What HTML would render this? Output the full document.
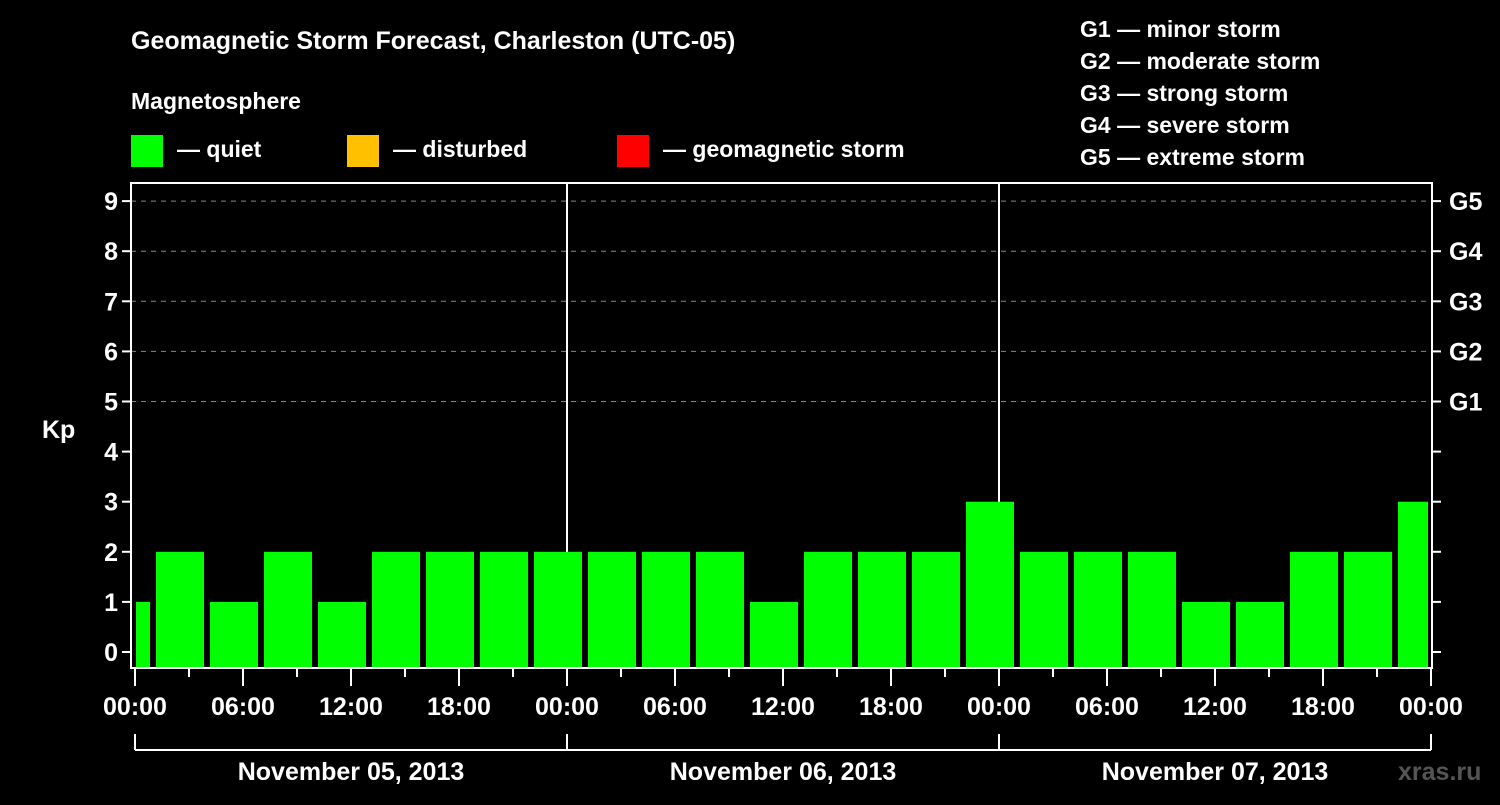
<!DOCTYPE html>
<html><head><meta charset="utf-8"><style>
body{margin:0;background:#000;width:1500px;height:800px;overflow:hidden}
svg text{font-family:"Liberation Sans",sans-serif;font-weight:bold;fill:#fff}
</style></head><body>
<svg id="c" width="1500" height="800">
<text x="131" y="49" font-size="25">Geomagnetic Storm Forecast, Charleston (UTC-05)</text>
<text x="131" y="109" font-size="23">Magnetosphere</text>
<rect x="131" y="135" width="32" height="32" fill="#00ff00"/>
<text x="177" y="157" font-size="23">— quiet</text>
<rect x="347" y="135" width="32" height="32" fill="#ffc000"/>
<text x="393" y="157" font-size="23">— disturbed</text>
<rect x="617" y="135" width="32" height="32" fill="#ff0000"/>
<text x="663" y="157" font-size="23">— geomagnetic storm</text>
<g font-size="23">
<text x="1080" y="37">G1 — minor storm</text>
<text x="1080" y="69">G2 — moderate storm</text>
<text x="1080" y="101">G3 — strong storm</text>
<text x="1080" y="133">G4 — severe storm</text>
<text x="1080" y="165">G5 — extreme storm</text>
</g>
<text x="42" y="438" font-size="25">Kp</text>
<text x="1398" y="780" font-size="25" fill="#444" style="fill:#555">xras.ru</text>
<g id="grid"></g><g id="bars"></g><g id="axes"></g>
</svg>
<script>
const kpValues=[1,2,1,2,1,2,2,2,2,2,2,2,1,2,2,2,3,2,2,2,1,1,2,2,3];
const yTicks=[0,1,2,3,4,5,6,7,8,9];
const gLabels=["","","","","","G1","G2","G3","G4","G5"];
const timeLabels=["00:00","06:00","12:00","18:00","00:00","06:00","12:00","18:00","00:00","06:00","12:00","18:00","00:00"];
const dayLabels=["November 05, 2013","November 06, 2013","November 07, 2013"];
const NS="http://www.w3.org/2000/svg";
const L=131,R=1432,T=183,B=668;
const y=v=>652-v*50.1;
const x=h=>135+h*18;
function mk(p,tag,a){const e=document.createElementNS(NS,tag);for(const k in a)e.setAttribute(k,a[k]);p.appendChild(e);return e;}
const grid=document.getElementById('grid'),bars=document.getElementById('bars'),axes=document.getElementById('axes');
yTicks.forEach(v=>{
 if(v>=5){const g=mk(grid,'line',{x1:L,x2:R,y1:y(v),y2:y(v),stroke:'#888','stroke-dasharray':'5,5','stroke-width':1});
 
 }
 const t=mk(axes,'line',{x1:L-9,x2:L,y1:y(v),y2:y(v),stroke:'#fff','stroke-width':2});
 
 
 const t2=mk(axes,'line',{x1:R,x2:R+9,y1:y(v),y2:y(v),stroke:'#fff','stroke-width':2});
 
 
 const lb=mk(axes,'text',{x:L-13,y:y(v)+9,'font-size':25,'text-anchor':'end'});lb.textContent=v;
 
 
 if(gLabels[v]){const gl=mk(axes,'text',{x:1449,y:y(v)+9,'font-size':25});gl.textContent=gLabels[v];
 
 }
});
[1,2].forEach(d=>{const l=mk(grid,'line',{x1:x(d*24),x2:x(d*24),y1:T,y2:B,stroke:'#fff','stroke-width':2});
 
 });
kpValues.forEach((v,i)=>{
 const c=-0.5+3*i;let x0=x(c)-24,x1=x(c)+24;
 x0=Math.max(x0,L+5);x1=Math.min(x1,R-4);
 const col=v>=5?'#ff0000':(v>=4?'#ffc000':'#00ff00');
 const r=mk(bars,'rect',{x:x0,y:y(v),width:x1-x0,height:B-1-y(v),fill:col});
 
 
});
const fr=mk(axes,'rect',{x:L,y:T,width:R-L,height:B-T,fill:'none',stroke:'#fff','stroke-width':2});


for(let k=0;k<=24;k++){
 const h=k*3;const len=(h%6===0)?18:9;
 const t=mk(axes,'line',{x1:x(h),x2:x(h),y1:B,y2:B+len,stroke:'#fff','stroke-width':2});
 
 
}
timeLabels.forEach((s,i)=>{const t=mk(axes,'text',{x:x(i*6),y:715,'font-size':25,'text-anchor':'middle'});t.textContent=s;
 
 });
const br=mk(axes,'line',{x1:x(0),x2:x(72),y1:750,y2:750,stroke:'#fff','stroke-width':2});


[0,1,2,3].forEach(d=>{const l=mk(axes,'line',{x1:x(d*24),x2:x(d*24),y1:734,y2:750,stroke:'#fff','stroke-width':2});
 
 });
dayLabels.forEach((s,i)=>{const t=mk(axes,'text',{x:x(i*24+12),y:780,'font-size':25,'text-anchor':'middle'});t.textContent=s;
 
 });
</script>
</body></html>
